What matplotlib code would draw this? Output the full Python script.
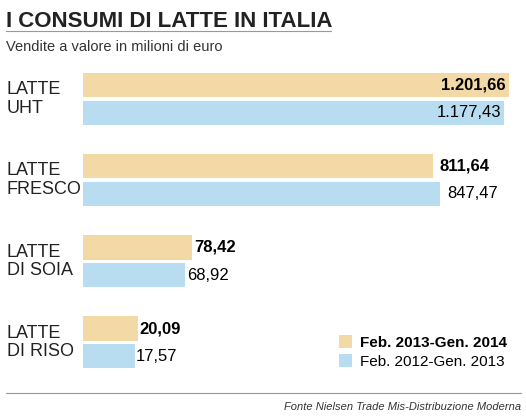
import numpy as np
import matplotlib.pyplot as plt

categories = ["LATTE\nUHT", "LATTE\nFRESCO", "LATTE\nDI SOIA", "LATTE\nDI RISO"]
vals_2014 = [1201.66, 811.64, 78.42, 20.09]
vals_2013 = [1177.43, 847.47, 68.92, 17.57]
labels_2014 = ["1.201,66", "811,64", "78,42", "20,09"]
labels_2013 = ["1.177,43", "847,47", "68,92", "17,57"]
series = ["Feb. 2013-Gen. 2014", "Feb. 2012-Gen. 2013"]

c14 = "#f3d9a6"
c13 = "#b9ddf0"
fam = "Liberation Sans"

fig = plt.figure(figsize=(5.26, 4.16), dpi=100)
fig.patch.set_facecolor("white")

fig.text(0.012, 0.935, "I CONSUMI DI LATTE IN ITALIA", fontsize=16, fontweight="bold",
         family=fam, color="#222222")
fig.add_artist(plt.Line2D([0.012, 0.63], [0.925, 0.925], color="#999999", lw=0.8))
fig.text(0.012, 0.877, "Vendite a valore in milioni di euro", fontsize=10.5,
         family=fam, color="#333333")

ax = fig.add_axes([0.158, 0.05, 0.83, 0.80])
# bars in the source are not to linear scale; a sqrt scale keeps the small ones visible
ax.set_xscale("function", functions=(lambda x: np.sqrt(np.clip(x, 0, None)), lambda x: x ** 2))
ax.set_xlim(0, 1265)
ax.set_ylim(3.65, -0.45)
ax.axis("off")

pos = np.arange(len(categories))
h = 0.3
ax.barh(pos - 0.17, vals_2014, height=h, color=c14, label=series[0])
ax.barh(pos + 0.17, vals_2013, height=h, color=c13, label=series[1])

for i, cat in enumerate(categories):
    ax.text(-0.175, i, cat, transform=ax.get_yaxis_transform(), ha="left", va="center",
            fontsize=13, family=fam, linespacing=1.1, color="#222222")
    if i == 0:
        ax.text(vals_2014[i] * 0.985, i - 0.17, labels_2014[i], ha="right", va="center",
                fontsize=12, fontweight="bold", family=fam)
        ax.text(vals_2013[i] * 0.985, i + 0.17, labels_2013[i], ha="right", va="center",
                fontsize=12, family=fam)
    else:
        ax.text(vals_2014[i] * 1.04, i - 0.17, labels_2014[i], ha="left", va="center",
                fontsize=12, fontweight="bold", family=fam)
        ax.text(vals_2013[i] * 1.04, i + 0.17, labels_2013[i], ha="left", va="center",
                fontsize=12, family=fam)

leg = fig.legend(loc="lower right", bbox_to_anchor=(0.99, 0.08), frameon=False,
                 prop={"family": fam, "size": 11, "weight": "bold"},
                 handlelength=0.9, handleheight=0.9, handletextpad=0.5, labelspacing=0.3)
leg.get_texts()[1].set_fontweight("normal")

fig.add_artist(plt.Line2D([0.012, 0.99], [0.055, 0.055], color="#999999", lw=0.8))
fig.text(0.99, 0.015, "Fonte Nielsen Trade Mis-Distribuzione Moderna", ha="right", fontsize=8,
         style="italic", family=fam, color="#333333")

fig.savefig("out.png", dpi=100)
